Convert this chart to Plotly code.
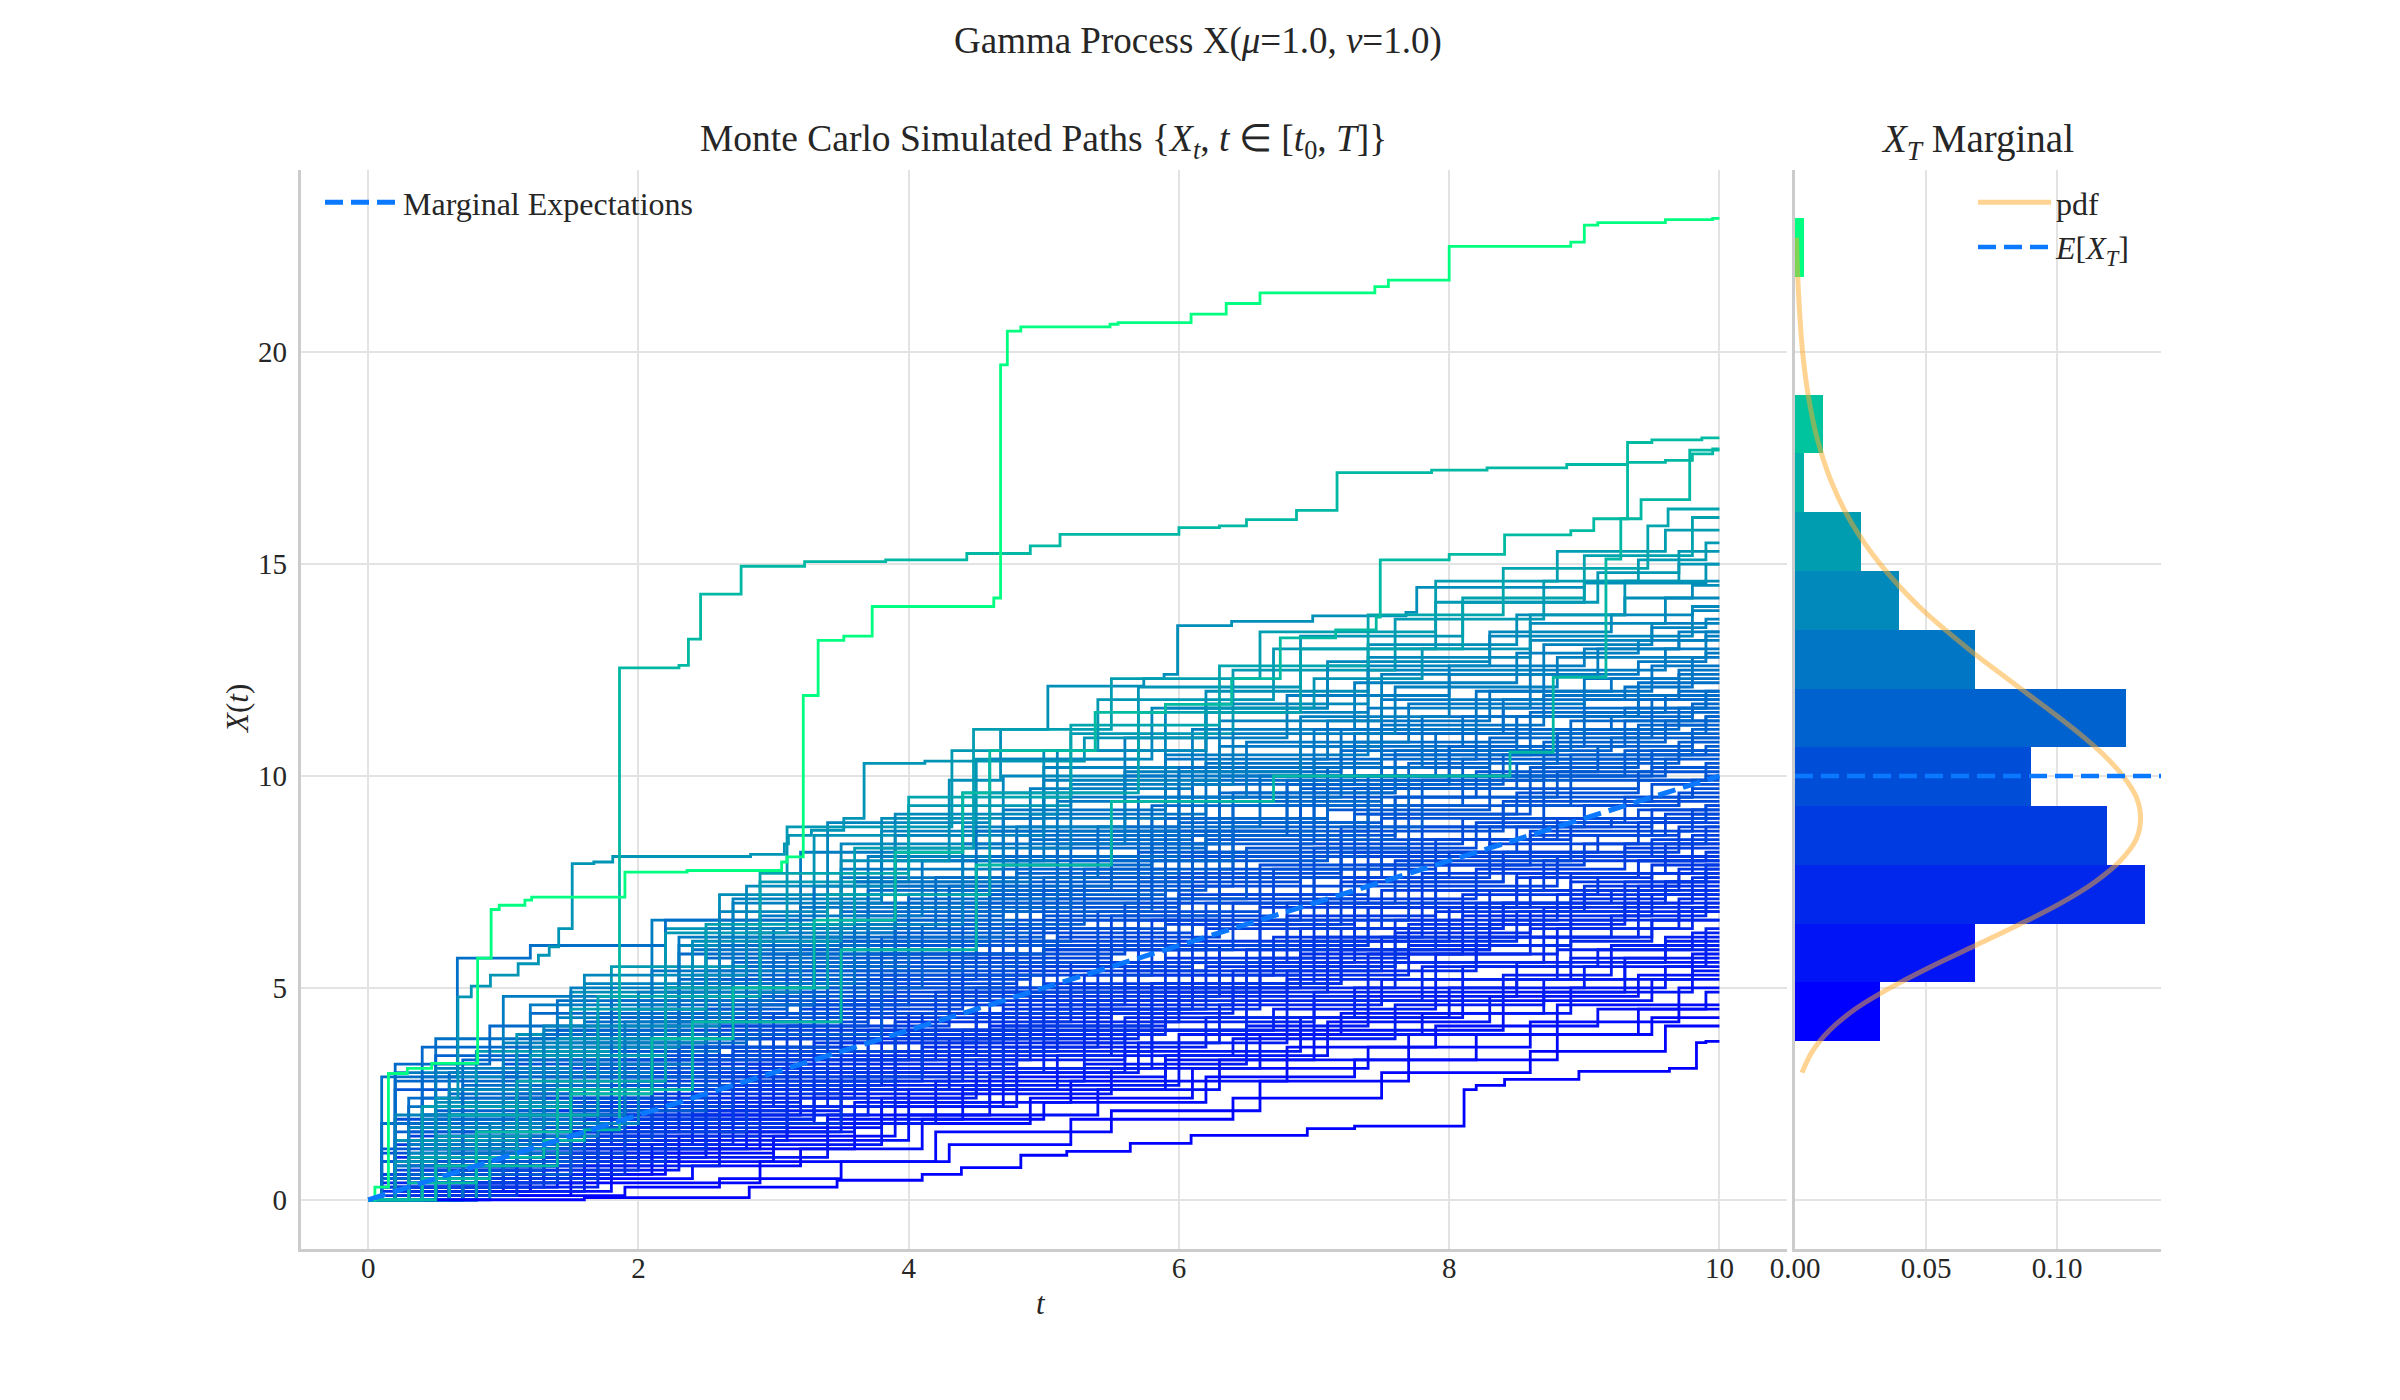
import plotly.graph_objects as go

FONT = "Liberation Serif"
TXT = "#262626"

# ---------------- data ----------------
# Each path: list of [t, value-after-jump] knots (path starts at 0 at t=0, held to t=10)
PATHS_BULK_B = [
    [[0.8,0.1],[1.9,0.3],[2.6,0.5],[3.5,0.9],[4.3,1.3],[5.2,1.9],[6.4,2.4],[7.5,3.0],[8.6,3.5],[9.6,4.1]],
    [[0.3,0.2],[1.2,0.5],[2.4,0.8],[3.2,1.2],[4.1,1.9],[5.0,2.3],[6.2,2.9],[7.3,3.3],[8.2,3.9],[9.4,4.5]],
    [[0.5,0.3],[1.4,0.6],[2.1,1.1],[3.0,1.4],[4.0,2.0],[5.4,2.6],[6.3,3.3],[7.7,3.9],[8.8,4.6],[9.7,5.0]],
    [[0.2,0.1],[0.9,0.5],[1.8,1.2],[2.9,1.7],[3.8,2.2],[4.7,2.6],[5.9,3.3],[7.0,4.0],[8.4,4.7],[9.5,5.2]],
    [[0.6,0.4],[1.5,0.7],[2.3,1.0],[3.4,1.9],[4.4,2.5],[5.5,3.1],[6.6,3.9],[7.8,4.4],[8.7,4.9],[9.8,5.4]],
    [[0.1,0.3],[1.0,0.9],[2.0,1.4],[3.1,1.8],[4.2,2.8],[5.3,3.2],[6.5,4.1],[7.4,4.8],[8.5,5.2],[9.3,5.7]],
    [[0.4,0.5],[1.3,0.8],[2.6,1.6],[3.6,2.3],[4.6,3.0],[5.7,3.7],[6.8,4.3],[8.0,5.0],[9.0,5.5],[9.9,5.9]],
    [[0.7,0.2],[1.6,1.0],[2.5,1.8],[3.3,2.4],[4.5,3.3],[5.6,4.0],[6.7,4.5],[7.9,5.2],[8.9,5.7],[9.6,6.1]],
    [[0.2,0.6],[1.1,1.2],[2.2,1.6],[3.5,2.7],[4.8,3.5],[5.8,4.2],[7.0,4.9],[8.1,5.5],[9.1,5.9],[9.8,6.3]],
    [[0.5,0.8],[1.4,1.3],[2.4,2.0],[3.2,2.6],[4.3,3.4],[5.5,4.4],[6.4,5.0],[7.6,5.6],[8.7,6.2],[9.5,6.6]],
    [[0.3,0.4],[1.2,1.5],[2.1,1.9],[3.3,2.8],[4.4,3.7],[5.6,4.3],[6.8,5.2],[7.9,5.8],[8.8,6.4],[9.7,6.8]],
    [[0.6,1.1],[1.7,1.7],[2.7,2.4],[3.7,3.2],[4.8,3.9],[5.9,4.9],[7.1,5.6],[8.2,6.2],[9.2,6.7],[9.9,7.0]],
    [[0.1,0.5],[1.0,1.3],[1.9,2.2],[3.0,3.0],[4.1,3.8],[5.3,4.7],[6.5,5.5],[7.6,6.3],[8.6,6.8],[9.4,7.2]],
    [[0.4,0.9],[1.5,1.9],[2.8,2.6],[3.9,3.5],[5.0,4.4],[6.0,5.1],[7.2,5.9],[8.3,6.6],[9.3,7.0],[9.8,7.3]],
    [[0.2,0.3],[0.8,1.0],[2.0,2.1],[3.1,3.3],[4.2,4.0],[5.4,4.9],[6.6,5.7],[7.7,6.5],[8.9,7.1],[9.6,7.5]],
    [[0.7,1.3],[1.8,2.2],[2.9,3.1],[3.8,3.9],[4.9,4.5],[6.1,5.6],[7.2,6.4],[8.4,7.0],[9.2,7.3],[9.9,7.6]],
    [[0.3,0.7],[1.3,1.6],[2.3,2.6],[3.4,3.3],[4.6,4.4],[5.7,5.3],[6.9,6.1],[8.0,6.9],[9.0,7.4],[9.7,7.7]],
    [[0.5,1.5],[1.6,2.4],[2.6,3.0],[3.6,4.0],[4.7,4.9],[5.9,5.7],[7.0,6.6],[8.1,7.2],[9.1,7.6],[9.5,7.9]],
    [[0.1,0.1],[1.1,0.9],[2.2,1.8],[3.5,2.9],[4.7,4.1],[5.8,5.1],[7.0,6.2],[8.2,7.0],[9.3,7.5],[9.9,7.8]],
    [[0.4,1.2],[1.2,2.0],[2.4,3.2],[3.3,3.7],[4.5,4.7],[5.6,5.6],[6.8,6.7],[7.9,7.3],[8.9,7.7],[9.8,8.0]],
    [[0.6,0.5],[1.7,1.8],[2.7,2.8],[3.9,3.8],[5.1,5.0],[6.3,6.0],[7.4,6.9],[8.5,7.6],[9.4,8.0],[9.9,8.2]],
    [[0.2,0.8],[1.1,2.1],[2.1,2.9],[3.1,4.1],[4.3,4.9],[5.4,6.0],[6.6,6.9],[7.8,7.7],[8.8,8.1],[9.6,8.4]],
    [[0.5,1.0],[1.4,2.3],[2.5,3.6],[3.6,4.4],[4.9,5.5],[6.1,6.5],[7.3,7.5],[8.4,8.1],[9.3,8.4],[9.8,8.6]],
    [[0.3,1.7],[1.3,2.7],[2.3,3.4],[3.5,4.7],[4.6,5.6],[5.7,6.6],[6.9,7.6],[8.0,8.2],[9.1,8.6],[9.7,8.8]],
    [[0.8,1.4],[1.8,2.9],[2.8,3.9],[3.8,4.9],[5.0,5.9],[6.2,7.0],[7.4,7.9],[8.6,8.6],[9.5,8.9],[9.9,9.0]],
    [[0.1,0.6],[1.0,1.9],[2.1,3.3],[3.2,4.6],[4.4,5.7],[5.5,6.7],[6.7,7.8],[7.9,8.5],[8.9,8.9],[9.6,9.1]],
    [[0.4,2.4],[1.5,3.2],[2.6,4.2],[3.7,5.1],[4.8,6.1],[6.0,7.2],[7.2,8.2],[8.3,8.8],[9.2,9.0],[9.8,9.2]],
    [[0.6,1.0],[1.6,2.6],[2.7,3.8],[3.8,5.3],[5.1,6.6],[6.3,7.6],[7.5,8.5],[8.7,9.0],[9.4,9.2],[9.9,9.3]],
    [[0.2,1.9],[1.1,3.1],[2.2,4.1],[3.3,5.2],[4.5,6.4],[5.7,7.5],[6.9,8.4],[8.1,9.0],[9.0,9.3],[9.7,9.5]],
    [[0.5,0.7],[1.3,2.2],[2.4,3.9],[3.6,5.4],[4.8,6.6],[6.0,7.7],[7.2,8.8],[8.4,9.3],[9.3,9.5],[9.8,9.7]],
    [[0.3,1.4],[1.4,3.3],[2.5,4.4],[3.7,5.8],[4.9,7.0],[6.1,8.2],[7.3,9.1],[8.5,9.6],[9.4,9.9],[9.9,10.0]],
    [[0.7,2.6],[1.7,3.6],[2.8,4.8],[3.9,6.1],[5.2,7.4],[6.4,8.6],[7.6,9.5],[8.7,10.0],[9.5,10.2],[9.9,10.3]],
    [[0.1,1.2],[1.2,2.7],[2.3,4.2],[3.4,5.6],[4.6,7.1],[5.8,8.4],[7.0,9.5],[8.2,10.1],[9.1,10.4],[9.7,10.5]],
    [[0.4,0.9],[1.5,2.9],[2.6,4.6],[3.8,6.2],[5.0,7.6],[6.2,8.7],[7.4,9.7],[8.6,10.2],[9.4,10.5],[9.9,10.6]],
    [[0.6,3.0],[1.6,3.9],[2.7,5.1],[3.9,6.4],[5.1,7.6],[6.3,8.9],[7.5,9.9],[8.7,10.4],[9.5,10.6],[9.9,10.7]],
    [[0.2,1.6],[1.1,3.3],[2.2,4.9],[3.3,6.0],[4.5,7.3],[5.7,8.6],[6.9,9.7],[8.1,10.4],[9.1,10.7],[9.8,10.9]],
    [[0.5,2.1],[1.4,3.7],[2.5,5.4],[3.6,6.7],[4.7,7.8],[5.9,9.0],[7.1,10.0],[8.3,10.6],[9.2,10.9],[9.8,11.1]],
    [[0.3,0.6],[1.0,2.4],[2.0,4.3],[3.1,5.8],[4.3,7.3],[5.5,8.7],[6.8,9.9],[8.0,10.7],[9.0,11.1],[9.6,11.3]],
    [[0.7,3.3],[1.8,4.5],[2.9,5.8],[4.0,7.2],[5.2,8.4],[6.4,9.6],[7.6,10.5],[8.8,11.0],[9.4,11.2],[9.9,11.4]],
    [[0.2,2.8],[1.2,3.8],[2.3,5.2],[3.5,6.6],[4.6,8.0],[5.8,9.3],[7.0,10.4],[8.2,11.1],[9.2,11.4],[9.8,11.6]],
    [[0.4,1.3],[1.5,3.5],[2.6,5.5],[3.7,7.0],[4.9,8.5],[6.1,9.8],[7.3,10.8],[8.5,11.4],[9.3,11.6],[9.9,11.8]],
    [[0.6,2.5],[1.6,4.2],[2.8,6.1],[3.9,7.4],[5.1,8.7],[6.3,10.0],[7.5,11.0],[8.6,11.5],[9.5,11.8],[9.9,11.9]],
    [[0.1,1.8],[1.1,3.4],[2.2,5.0],[3.3,6.5],[4.5,8.1],[5.7,9.5],[6.9,10.7],[8.1,11.4],[9.0,11.8],[9.7,12.0]],
    [[0.5,3.8],[1.4,4.7],[2.5,6.0],[3.6,7.5],[4.8,8.8],[6.0,10.1],[7.2,11.1],[8.4,11.8],[9.3,12.1],[9.8,12.3]],
    [[0.3,2.2],[1.3,4.0],[2.4,5.9],[3.5,7.6],[4.7,9.2],[5.9,10.4],[7.1,11.3],[8.3,12.0],[9.2,12.3],[9.7,12.5]],
    [[0.7,1.5],[1.7,4.4],[2.8,6.3],[3.9,8.0],[5.1,9.4],[6.3,10.7],[7.5,11.8],[8.7,12.4],[9.4,12.7],[9.9,12.9]],
    [[0.2,3.0],[1.0,4.8],[2.1,6.6],[3.2,8.2],[4.4,9.6],[5.6,10.9],[6.8,11.9],[8.0,12.6],[9.0,13.0],[9.7,13.2]],
    [[0.4,1.9],[1.4,4.3],[2.6,6.2],[3.7,8.1],[4.9,9.7],[6.1,11.1],[7.3,12.2],[8.5,12.9],[9.4,13.2],[9.9,13.4]],
    [[0.6,2.9],[1.6,5.1],[2.7,7.1],[3.8,8.7],[5.0,10.2],[6.2,11.5],[7.4,12.5],[8.6,13.2],[9.5,13.5],[9.9,13.7]],
    [[0.3,1.1],[1.2,3.6],[2.3,6.0],[3.5,8.4],[4.7,10.0],[5.9,11.6],[7.1,12.7],[8.3,13.4],[9.2,13.8],[9.8,14.0]],
    [[0.5,2.3],[1.5,4.9],[2.6,7.2],[3.8,9.0],[5.0,10.6],[6.2,12.0],[7.4,13.1],[8.5,13.8],[9.3,14.2],[9.8,14.5]],
    [[0.2,1.4],[1.1,3.9],[2.2,6.4],[3.3,8.6],[4.5,10.4],[5.7,12.1],[6.9,13.3],[8.1,14.1],[9.0,14.6],[9.7,15.0]],
    [[0.8,3.5],[1.8,5.5],[2.9,7.5],[4.0,9.3],[5.2,11.0],[6.4,12.5],[7.6,13.7],[8.7,14.6],[9.4,15.1],[9.9,15.5]],
]

PATHS_BULK_A = [
    [[0.4,0.1],[1.5,0.4],[2.9,0.9],[4.2,1.6],[5.5,2.1],[6.6,2.8],[7.7,3.3],[8.8,3.9],[9.5,4.3]],
    [[0.2,0.3],[1.1,0.6],[2.2,1.2],[3.6,1.8],[4.9,2.4],[6.1,3.1],[7.4,3.6],[8.6,4.2],[9.7,4.6]],
    [[0.6,0.2],[1.8,0.9],[3.0,1.5],[3.9,2.3],[5.2,2.8],[6.8,3.6],[7.9,4.1],[9.1,4.5],[9.9,4.9]],
    [[0.3,0.5],[1.3,1.1],[2.5,1.6],[3.4,2.0],[4.6,2.9],[5.9,3.4],[7.1,4.2],[8.3,4.8],[9.4,5.3]],
    [[0.5,0.2],[1.0,0.8],[2.1,1.3],[3.8,2.4],[4.4,2.7],[6.0,3.9],[7.2,4.4],[8.9,5.0],[9.6,5.5]],
    [[0.1,0.6],[0.9,0.9],[2.3,1.5],[3.1,2.2],[4.8,3.0],[5.6,3.5],[6.9,4.3],[8.1,4.9],[9.3,5.6]],
    [[0.7,0.4],[1.6,1.2],[2.8,1.8],[4.0,2.6],[5.1,3.4],[6.4,3.8],[7.6,4.6],[8.7,5.2],[9.8,5.8]],
    [[0.2,0.2],[1.2,1.0],[2.0,1.9],[3.3,2.5],[4.5,3.1],[5.8,4.0],[7.0,4.7],[8.4,5.3],[9.2,6.0]],
    [[0.4,0.7],[1.4,1.4],[2.6,2.1],[3.5,2.6],[4.7,3.6],[6.2,4.3],[7.3,5.0],[8.5,5.6],[9.6,6.2]],
    [[0.3,0.3],[1.7,1.5],[2.4,2.0],[3.7,3.0],[5.0,3.7],[6.3,4.6],[7.5,5.2],[8.8,5.9],[9.9,6.4]],
    [[0.6,0.9],[1.1,1.3],[2.7,2.2],[3.9,3.1],[5.3,4.0],[6.5,4.7],[7.8,5.5],[8.9,6.1],[9.5,6.6]],
    [[0.1,0.4],[1.0,1.1],[2.2,2.3],[3.2,3.0],[4.3,3.8],[5.7,4.9],[6.8,5.4],[8.2,6.2],[9.4,6.8]],
    [[0.5,0.5],[1.5,1.6],[2.5,2.4],[3.6,3.3],[4.9,4.2],[6.0,4.8],[7.4,5.8],[8.6,6.4],[9.8,6.9]],
    [[0.2,1.0],[1.3,1.7],[2.1,2.2],[3.4,3.1],[4.6,4.1],[5.9,5.0],[7.1,5.9],[8.3,6.5],[9.3,7.0]],
    [[0.8,0.6],[1.9,1.5],[2.9,2.8],[4.1,3.6],[5.4,4.5],[6.6,5.3],[7.7,6.0],[8.9,6.6],[9.7,7.1]],
    [[0.3,0.8],[1.2,1.4],[2.4,2.6],[3.3,3.4],[4.5,4.3],[5.5,5.0],[6.9,5.8],[8.1,6.7],[9.5,7.2]],
    [[0.4,1.2],[1.6,2.0],[2.6,2.7],[3.8,3.5],[5.1,4.6],[6.4,5.4],[7.5,6.2],[8.7,6.9],[9.9,7.3]],
    [[0.1,0.2],[0.9,0.7],[2.0,1.7],[3.1,2.9],[4.4,4.0],[5.8,5.1],[7.2,6.1],[8.5,6.8],[9.4,7.4]],
    [[0.6,1.4],[1.4,2.1],[2.8,3.2],[3.7,3.8],[4.8,4.7],[6.1,5.6],[7.3,6.4],[8.4,7.0],[9.6,7.5]],
    [[0.2,0.5],[1.1,1.8],[2.3,2.5],[3.5,3.7],[4.7,4.5],[6.2,5.5],[7.6,6.6],[8.8,7.2],[9.8,7.6]],
    [[0.5,1.0],[1.7,2.3],[2.7,3.0],[3.9,4.2],[5.2,5.0],[6.5,5.9],[7.9,6.8],[9.0,7.3],[9.5,7.7]],
    [[0.3,0.3],[1.3,1.2],[2.5,2.9],[3.2,3.5],[4.6,4.6],[5.6,5.4],[6.9,6.4],[8.3,7.3],[9.7,7.8]],
    [[0.7,1.6],[1.8,2.6],[2.9,3.3],[4.0,4.4],[5.3,5.3],[6.7,6.2],[7.8,7.0],[8.9,7.5],[9.9,7.9]],
    [[0.4,0.6],[1.0,1.5],[2.2,2.7],[3.6,3.9],[4.9,4.8],[6.3,6.0],[7.4,6.9],[8.6,7.6],[9.4,8.0]],
    [[0.1,0.9],[1.5,2.4],[2.4,3.1],[3.7,4.0],[5.0,5.1],[6.0,6.1],[7.3,7.0],[8.5,7.7],[9.6,8.1]],
    [[0.6,0.8],[1.6,1.9],[2.6,3.4],[3.3,4.0],[4.5,5.0],[5.7,5.9],[7.1,7.1],[8.2,7.8],[9.3,8.3]],
    [[0.2,1.3],[1.2,2.2],[2.1,3.0],[3.4,4.3],[4.8,5.4],[6.2,6.4],[7.5,7.3],[8.7,8.0],[9.8,8.4]],
    [[0.5,0.4],[1.4,1.6],[2.8,2.9],[4.1,4.4],[5.2,5.6],[6.6,6.6],[7.7,7.4],[8.8,8.1],[9.5,8.5]],
    [[0.3,1.5],[1.1,2.5],[2.3,3.6],[3.5,4.6],[4.7,5.5],[5.9,6.5],[7.2,7.5],[8.4,8.2],[9.7,8.7]],
    [[0.8,1.1],[1.9,2.8],[3.0,3.9],[4.2,4.9],[5.5,6.0],[6.8,7.0],[7.9,7.9],[9.0,8.4],[9.9,8.8]],
    [[0.1,0.3],[1.0,2.0],[2.0,3.3],[3.2,4.5],[4.4,5.3],[5.8,6.6],[7.0,7.6],[8.3,8.4],[9.4,8.9]],
    [[0.4,2.0],[1.3,2.9],[2.5,3.8],[3.8,4.8],[5.0,5.9],[6.4,7.0],[7.6,8.0],[8.9,8.6],[9.6,9.0]],
    [[0.6,0.9],[1.7,2.2],[2.7,3.5],[3.9,5.0],[5.1,6.2],[6.3,7.2],[7.4,8.1],[8.6,8.7],[9.8,9.1]],
    [[0.2,0.7],[1.2,2.6],[2.4,4.0],[3.3,4.7],[4.6,6.0],[6.0,7.1],[7.3,8.2],[8.5,8.8],[9.5,9.2]],
    [[0.5,1.8],[1.5,3.0],[2.6,4.1],[3.7,5.2],[4.9,6.3],[6.1,7.4],[7.7,8.5],[8.8,9.0],[9.9,9.3]],
    [[0.3,0.5],[0.9,1.4],[2.1,3.4],[3.0,4.4],[4.3,5.8],[5.6,7.0],[7.0,8.3],[8.2,8.9],[9.3,9.4]],
    [[0.7,2.3],[1.8,3.3],[2.9,4.6],[4.0,5.6],[5.4,6.8],[6.6,7.9],[7.8,8.8],[9.0,9.3],[9.7,9.6]],
    [[0.1,1.1],[1.1,2.4],[2.2,3.6],[3.4,5.0],[4.7,6.4],[5.9,7.6],[7.2,8.7],[8.4,9.4],[9.5,9.8]],
    [[0.4,0.8],[1.4,2.7],[2.7,4.3],[3.6,5.3],[5.0,6.7],[6.3,7.8],[7.5,9.0],[8.7,9.5],[9.8,9.9]],
    [[0.2,2.6],[1.0,3.2],[2.3,4.4],[3.5,5.5],[4.8,6.9],[6.0,8.1],[7.4,9.1],[8.6,9.7],[9.4,10.1]],
    [[0.6,1.2],[1.6,3.1],[2.8,4.9],[3.9,6.0],[5.1,7.1],[6.5,8.3],[7.7,9.3],[8.9,9.9],[9.9,10.2]],
    [[0.3,1.6],[1.3,3.5],[2.4,4.7],[3.3,5.7],[4.5,6.8],[5.8,8.0],[7.1,9.2],[8.3,10.0],[9.6,10.4]],
    [[0.5,0.6],[1.5,2.1],[2.5,3.9],[3.8,5.8],[5.0,7.3],[6.2,8.5],[7.6,9.5],[8.8,10.1],[9.5,10.5]],
    [[0.1,0.9],[1.2,3.4],[2.0,4.5],[3.1,5.4],[4.4,7.0],[5.7,8.2],[6.9,9.3],[8.1,10.0],[9.3,10.6]],
    [[0.4,2.9],[1.1,3.6],[2.6,5.2],[3.7,6.3],[4.9,7.5],[6.1,8.6],[7.3,9.7],[8.5,10.3],[9.7,10.8]],
    [[0.7,1.7],[1.9,3.8],[2.9,5.0],[4.1,6.5],[5.3,7.8],[6.4,8.8],[7.8,9.9],[8.9,10.5],[9.8,10.9]],
    [[0.2,1.4],[1.3,2.8],[2.2,4.8],[3.4,6.1],[4.6,7.2],[5.9,8.7],[7.0,9.8],[8.4,10.5],[9.4,11.0]],
    [[0.5,3.4],[1.4,4.0],[2.4,5.3],[3.6,6.6],[4.8,7.7],[6.0,8.9],[7.4,10.0],[8.7,10.8],[9.6,11.2]],
    [[0.3,1.0],[1.0,2.9],[2.1,4.2],[3.2,5.9],[4.3,7.4],[5.5,8.6],[6.8,9.8],[8.0,10.7],[9.3,11.3]],
    [[0.6,2.2],[1.7,4.3],[2.7,5.6],[3.9,6.9],[5.2,8.0],[6.4,9.3],[7.7,10.3],[8.8,11.0],[9.9,11.4]],
    [[0.1,0.5],[0.8,3.0],[2.0,4.6],[3.3,6.2],[4.7,7.9],[5.8,9.0],[7.1,10.2],[8.3,10.9],[9.5,11.5]],
    [[0.4,3.6],[1.2,4.4],[2.5,5.7],[3.5,6.8],[4.9,8.3],[6.2,9.4],[7.5,10.5],[8.6,11.1],[9.7,11.6]],
    [[0.5,1.9],[1.6,3.7],[2.8,5.5],[4.0,7.1],[5.1,8.4],[6.3,9.6],[7.6,10.6],[8.9,11.3],[9.8,11.7]],
    [[0.2,3.2],[0.9,4.1],[2.3,5.8],[3.4,7.0],[4.6,8.1],[6.0,9.5],[7.2,10.6],[8.5,11.4],[9.4,11.8]],
    [[0.7,2.7],[1.8,4.7],[3.0,6.4],[4.2,7.6],[5.4,8.8],[6.6,10.0],[7.9,11.0],[9.0,11.5],[9.6,11.9]],
    [[0.3,2.4],[1.3,3.9],[2.6,6.0],[3.7,7.3],[4.8,8.6],[6.1,9.9],[7.3,11.0],[8.4,11.6],[9.9,12.0]],
    [[0.1,2.9],[0.66,5.7],[1.2,6.0],[2.2,6.6],[3.3,7.4],[4.5,8.7],[6.0,10.2],[7.8,11.4],[9.4,12.2]],
    [[0.6,1.1],[1.5,3.2],[2.4,5.1],[3.6,7.5],[4.9,9.1],[6.2,10.3],[7.5,11.2],[8.7,11.9],[9.7,12.4]],
    [[0.2,0.8],[1.1,3.0],[2.1,5.4],[3.2,6.9],[4.4,8.4],[5.6,10.0],[7.0,11.1],[8.2,12.0],[9.5,12.6]],
    [[0.4,2.0],[1.9,4.2],[2.9,6.7],[4.1,8.0],[5.0,9.5],[6.5,10.8],[7.7,11.7],[9.0,12.3],[9.8,12.8]],
    [[0.3,1.3],[1.2,4.6],[2.3,6.2],[3.5,7.8],[4.7,9.0],[5.9,10.5],[7.4,11.6],[8.6,12.5],[9.6,13.0]],
    [[0.5,3.1],[1.5,5.0],[2.7,7.0],[3.8,8.3],[5.2,9.8],[6.4,11.0],[7.6,12.1],[8.8,12.8],[9.9,13.3]],
    [[0.9,1.8],[2.0,4.9],[3.2,6.5],[4.4,8.8],[5.6,10.1],[6.9,11.4],[8.0,12.4],[9.1,13.0],[9.7,13.4]],
    [[0.2,2.0],[1.0,3.7],[2.5,6.4],[3.9,8.6],[5.0,9.9],[6.3,11.3],[7.5,12.4],[8.7,13.1],[9.5,13.6]],
    [[0.4,1.2],[1.4,3.8],[2.4,6.1],[3.5,8.0],[4.3,9.9],[4.68,11.1],[5.03,12.12],[5.74,12.3],[5.89,12.4],
     [5.99,13.55],[6.39,13.65],[6.99,13.78],[7.68,13.86],[7.76,14.45],[9.0,14.55],[9.9,14.6]],
    [[0.6,2.6],[1.6,5.3],[2.8,7.4],[3.9,9.1],[5.1,10.6],[6.2,11.7],[7.4,12.8],[8.6,13.6],[9.6,14.2]],
    [[0.3,1.7],[1.3,4.1],[2.6,6.8],[3.4,8.9],[4.6,10.4],[5.8,11.6],[7.1,12.6],[8.3,13.3],[9.8,13.9]],
    [[0.2,0.9],[0.5,2.4],[0.664,4.79],[0.763,5.04],[0.905,5.3],[1.11,5.57],[1.26,5.77],[1.34,5.97],
     [1.41,6.4],[1.51,7.93],[1.67,7.97],[1.81,8.1],[2.83,8.15],[3.08,8.4],[3.11,8.6],[3.28,8.72],
     [3.52,9.0],[3.67,10.3],[4.12,10.35],[5.3,10.9],[6.2,11.6],[7.0,12.3],[7.8,13.0],[8.6,13.8],
     [9.3,14.6],[9.9,15.0]],
    [[0.5,1.5],[1.2,3.4],[2.2,6.3],[3.1,8.8],[4.32,10.6],[5.4,11.8],[6.7,13.0],[7.9,14.1],[9.1,14.8],[9.7,15.3]],
    [[0.4,2.2],[1.5,4.5],[2.5,6.5],[3.6,8.3],[4.48,11.1],[5.5,12.3],[6.6,13.4],[7.9,14.6],[8.8,15.3],[9.6,15.8]],
    [[0.3,1.0],[1.1,2.8],[2.2,5.0],[3.4,7.2],[4.6,9.6],[5.7,11.5],[6.9,13.0],[8.1,14.2],[9.0,15.2],[9.8,16.1]],
    [[0.6,2.0],[1.7,4.8],[2.9,7.7],[4.0,9.5],[5.2,11.2],[6.3,12.6],[7.4,13.8],[8.4,14.9],[9.47,15.9],[9.62,16.3]],
]

PATHS_NOTABLE = [
    # lowest path
    [[1.6,0.05],[2.82,0.3],[3.47,0.46],[4.1,0.6],[4.39,0.76],[4.83,1.05],[5.17,1.14],[5.64,1.33],
     [6.09,1.52],[6.95,1.68],[7.3,1.74],[8.11,2.6],[8.2,2.7],[8.41,2.84],[8.96,3.03],[9.63,3.1],
     [9.83,3.71],[9.9,3.74]],
    # path ending near 17.7 (late jumps)
    [[0.5,0.8],[1.4,2.6],[2.4,4.2],[3.5,5.9],[4.5,7.9],[5.5,9.4],[6.7,10.0],[8.45,10.56],[8.77,12.33],
     [9.16,15.12],[9.27,16.07],[9.42,16.52],[9.78,17.69]],
    # path ending near 17.98
    [[0.3,0.4],[0.8,1.6],[1.5,2.5],[2.1,3.8],[2.7,5.0],[3.3,6.6],[3.9,8.2],[4.4,9.6],[4.6,10.6],
     [5.38,11.5],[5.9,11.69],[6.39,12.3],[6.75,13.26],[7.16,13.45],[7.46,13.75],[7.49,15.1],[8.0,15.23],
     [8.41,15.69],[8.9,15.79],[9.07,16.07],[9.32,17.87],[9.5,17.93],[9.87,17.98]],
    # path with big jump at t~1.86
    [[0.4,0.5],[0.9,1.0],[1.3,1.4],[1.6,1.65],[1.86,12.55],[2.3,12.61],[2.37,13.23],[2.46,14.29],
     [2.76,14.95],[3.23,15.06],[3.83,15.1],[4.43,15.25],[4.9,15.43],[5.12,15.7],[6.0,15.86],[6.3,15.9],
     [6.5,16.05],[6.87,16.27],[7.17,17.16],[7.87,17.22],[8.28,17.27],[8.87,17.35],[9.32,17.4],
     [9.6,17.45],[9.8,17.6],[9.95,17.72]],
    # top path
    [[0.05,0.3],[0.15,2.98],[0.29,3.1],[0.47,3.22],[0.81,5.7],[0.91,6.85],[0.97,6.95],[1.16,7.07],
     [1.21,7.14],[1.9,7.73],[2.36,7.77],[3.06,7.97],[3.1,8.09],[3.22,11.9],[3.33,13.2],[3.52,13.3],
     [3.73,14.0],[4.63,14.2],[4.68,19.7],[4.73,20.5],[4.83,20.6],[5.49,20.66],[5.55,20.7],[6.09,20.9],
     [6.35,21.15],[6.6,21.4],[7.45,21.55],[7.55,21.7],[8.0,22.5],[8.9,22.6],[9.0,23.0],[9.1,23.06],
     [9.6,23.13],[9.95,23.16]],
]
T_END = 10.0

# Marginal expectation line E[X_t] = mu * t
EXP_T = [0.0, 10.0]
EXP_V = [0.0, 10.0]
EXP_FINAL = 10.0

# Histogram of X_T (counts per bin, 14 equal bins between min and max of X_T)
HIST_MIN = 3.74
HIST_MAX = 23.16
HIST_COUNTS = [9, 19, 37, 33, 25, 35, 19, 11, 7, 1, 3, 0, 0, 1]
N_PATHS_TOTAL = 200

# pdf curve
PDF_Y = [3.0, 3.5, 4.0, 4.5, 5.0, 5.5, 6.0, 6.5, 7.0, 7.5, 8.0, 8.5, 9.0, 9.5, 10.0, 10.5, 11.0,
         11.5, 12.0, 12.5, 13.0, 14.0, 15.0, 16.0, 17.0, 18.0, 19.0, 20.0, 21.0, 22.0, 22.7]
PDF_D = [0.0027, 0.0066, 0.0132, 0.0230, 0.0363, 0.0518, 0.0688, 0.0857, 0.1014, 0.1144, 0.1241,
         0.1301, 0.1318, 0.1302, 0.1251, 0.1177, 0.1085, 0.0982, 0.0874, 0.0766, 0.0661, 0.0473,
         0.0325, 0.0213, 0.0135, 0.0083, 0.0050, 0.0029, 0.0017, 0.0009, 0.0006]

X2_MAX = 0.1396

# ---------------- helpers ----------------
def winter(c):
    c = max(0.0, min(1.0, c))
    return "rgb(0,%d,%d)" % (round(255 * c), round(255 * (1 - 0.5 * c)))

PATHS = []
for i in range(max(len(PATHS_BULK_A), len(PATHS_BULK_B))):
    if i < len(PATHS_BULK_B):
        PATHS.append(PATHS_BULK_B[i])
    if i < len(PATHS_BULK_A):
        PATHS.append(PATHS_BULK_A[i])
PATHS = PATHS + PATHS_NOTABLE

finals = [p[-1][1] for p in PATHS]
fmin, fmax = min(finals), max(finals)

fig = go.Figure()

for p in PATHS:
    ts = [0.0] + [k[0] for k in p] + [T_END]
    vs = [0.0] + [k[1] for k in p] + [p[-1][1]]
    col = winter((p[-1][1] - fmin) / (fmax - fmin))
    fig.add_trace(go.Scatter(x=ts, y=vs, mode="lines", line=dict(color=col, width=2.8, shape="hv"),
                             showlegend=False, hoverinfo="skip", xaxis="x", yaxis="y"))

BLUE = "#0a78ff"
fig.add_trace(go.Scatter(x=EXP_T, y=EXP_V, mode="lines", name="Marginal Expectations",
                         line=dict(color=BLUE, width=5, dash="18px,8px"),
                         xaxis="x", yaxis="y", legend="legend"))

# histogram
nb = len(HIST_COUNTS)
bw = (HIST_MAX - HIST_MIN) / nb
centers = [HIST_MIN + (i + 0.5) * bw for i in range(nb)]
dens = [c / (N_PATHS_TOTAL * bw) for c in HIST_COUNTS]
bar_cols = [winter(i / (nb - 1)) for i in range(nb)]
fig.add_trace(go.Bar(y=centers, x=dens, orientation="h", width=bw,
                     marker=dict(color=bar_cols, line=dict(width=0)),
                     showlegend=False, xaxis="x2", yaxis="y2", hoverinfo="skip"))

fig.add_trace(go.Scatter(x=PDF_D, y=PDF_Y, mode="lines", name="pdf",
                         line=dict(color="rgba(255,170,40,0.5)", width=5, shape="spline"),
                         xaxis="x2", yaxis="y2", legend="legend2"))
fig.add_trace(go.Scatter(x=[0, X2_MAX], y=[EXP_FINAL, EXP_FINAL], mode="lines",
                         name="<i>E</i>[<i>X</i><sub><i>T</i></sub>]",
                         line=dict(color=BLUE, width=4.5, dash="18px,8px"),
                         xaxis="x2", yaxis="y2", legend="legend2"))

W, H = 2400, 1400
xd1 = [300.6 / W, 1787 / W]
xd2 = [1795 / W, 2161 / W]
yd = [1 - 1248.5 / H, 1 - 170 / H]

axis_common = dict(showgrid=True, gridcolor="#e3e3e3", gridwidth=1.6, zeroline=False,
                   showline=True, linecolor="#cccccc", linewidth=2.6, ticks="", automargin=False,
                   tickfont=dict(family=FONT, size=29, color=TXT))

fig.update_layout(
    width=W, height=H, margin=dict(l=0, r=0, t=0, b=0, autoexpand=False),
    paper_bgcolor="white", plot_bgcolor="white",
    font=dict(family=FONT, color=TXT),
    xaxis=dict(domain=xd1, range=[-0.5, 10.5], tickvals=[0, 2, 4, 6, 8, 10], anchor="y",
               ticklabelstandoff=-8, **axis_common),
    yaxis=dict(domain=yd, range=[-1.15, 24.3], tickvals=[0, 5, 10, 15, 20], anchor="x",
               ticklabelstandoff=5, **axis_common),
    xaxis2=dict(domain=xd2, range=[0, X2_MAX], tickvals=[0, 0.05, 0.10],
                ticktext=["0.00", "0.05", "0.10"], anchor="y2", ticklabelstandoff=-8, **axis_common),
    yaxis2=dict(domain=yd, matches="y", anchor="x2", showticklabels=False,
                tickvals=[0, 5, 10, 15, 20], **axis_common),
    legend=dict(x=320 / W, y=1 - 175 / H, xanchor="left", yanchor="top",
                bgcolor="rgba(0,0,0,0)", font=dict(family=FONT, size=32, color=TXT), itemwidth=73),
    legend2=dict(x=1973 / W, y=1 - 175 / H, xanchor="left", yanchor="top",
                 bgcolor="rgba(0,0,0,0)", font=dict(family=FONT, size=32, color=TXT), itemwidth=73),
    bargap=0,
)

ann = [
    dict(text="Gamma Process X(<i>μ</i>=1.0, <i>ν</i>=1.0)", x=1198 / W, y=1 - 41 / H, size=37),
    dict(text="Monte Carlo Simulated Paths {<i>X</i><sub><i>t</i></sub>, <i>t</i> ∈ [<i>t</i><sub>0</sub>, <i>T</i>]}",
         x=1043 / W, y=1 - 141 / H, size=37.5),
    dict(text="<i>X</i><sub><i>T</i></sub> Marginal", x=1977 / W, y=1 - 141 / H, size=39),
    dict(text="<i>t</i>", x=1041 / W, y=1 - 1303 / H, size=31),
]
for a in ann:
    fig.add_annotation(text=a["text"], x=a["x"], y=a["y"], xref="paper", yref="paper",
                       xanchor="center", yanchor="middle", showarrow=False,
                       font=dict(family=FONT, size=a["size"], color=TXT))
fig.add_annotation(text="<i>X</i>(<i>t</i>)", x=237 / W, y=1 - 709 / H, xref="paper", yref="paper",
                   xanchor="center", yanchor="middle", showarrow=False, textangle=-90,
                   font=dict(family=FONT, size=31, color=TXT))

fig.write_html("out.html")
